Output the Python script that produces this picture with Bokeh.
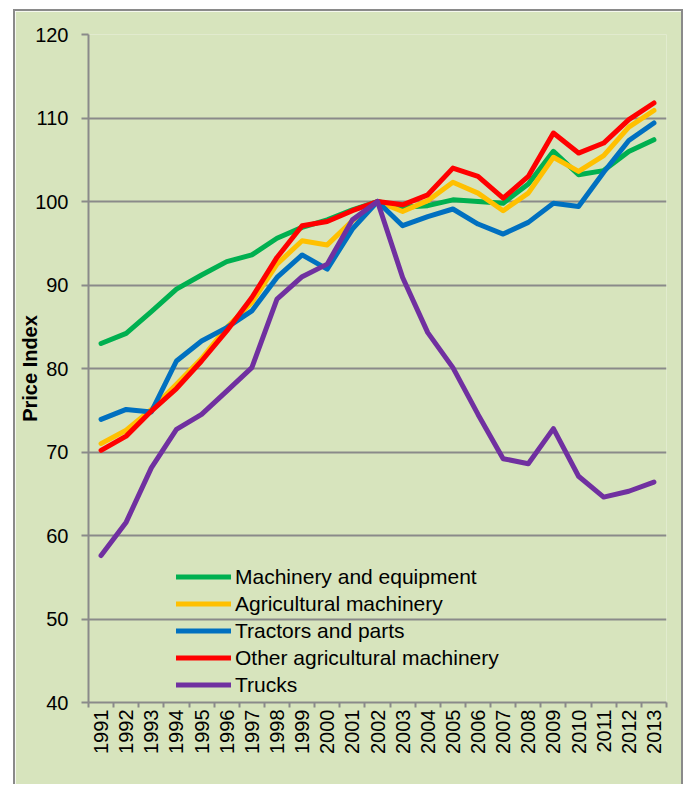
from bokeh.plotting import figure
from bokeh.models import Range1d, FixedTicker, Legend, LegendItem
from bokeh.embed import file_html
from bokeh.resources import INLINE
import math

years = [1991, 1992, 1993, 1994, 1995, 1996, 1997, 1998, 1999, 2000, 2001, 2002,
         2003, 2004, 2005, 2006, 2007, 2008, 2009, 2010, 2011, 2012, 2013]
machinery = [83.0, 84.2, 86.8, 89.5, 91.2, 92.8, 93.6, 95.6, 96.9, 97.8, 99.0, 100.0,
             99.3, 99.5, 100.2, 100.0, 99.8, 102.1, 106.0, 103.2, 103.7, 106.0, 107.4]
agricultural = [71.0, 72.6, 75.1, 78.1, 81.2, 84.9, 87.9, 92.5, 95.3, 94.8, 97.7, 100.0,
                98.8, 100.1, 102.3, 101.0, 98.9, 101.0, 105.3, 103.6, 105.5, 108.9, 110.9]
tractors = [73.9, 75.1, 74.8, 80.9, 83.3, 84.9, 86.9, 90.9, 93.6, 91.9, 96.7, 100.0,
            97.1, 98.2, 99.1, 97.3, 96.1, 97.5, 99.8, 99.4, 103.5, 107.3, 109.4]
other_ag = [70.2, 71.9, 74.9, 77.6, 80.9, 84.5, 88.5, 93.3, 97.1, 97.6, 98.9, 100.0,
            99.6, 100.8, 104.0, 103.0, 100.4, 103.0, 108.2, 105.8, 107.0, 109.8, 111.8]
trucks = [57.6, 61.6, 68.1, 72.7, 74.5, 77.3, 80.1, 88.3, 91.0, 92.5, 97.8, 100.0,
          90.9, 84.3, 80.1, 74.5, 69.2, 68.6, 72.8, 67.1, 64.6, 65.3, 66.4]

series_names = ["Machinery and equipment", "Agricultural machinery", "Tractors and parts",
                "Other agricultural machinery", "Trucks"]
series_colors = ["#00B050", "#FFC000", "#0070C0", "#FF0000", "#7030A0"]
y_ticks = [40, 50, 60, 70, 80, 90, 100, 110, 120]

BG = "#D7E4BD"
GRID = "#8A8A8A"
FONT = "Liberation Sans"

p = figure(width=670, height=775, output_backend="svg", toolbar_location=None,
           x_range=Range1d(years[0] - 0.5, years[-1] + 0.5),
           y_range=Range1d(y_ticks[0], y_ticks[-1]),
           min_border_left=73, min_border_right=19, min_border_top=23, min_border_bottom=84)
p.background_fill_color = BG
p.border_fill_color = BG
p.outline_line_color = None
p.styles = {"margin-top": "9px", "margin-left": "13px",
            "border-top": "2px solid #8A8A8A", "border-left": "2px solid #8A8A8A",
            "border-right": "2px solid #8A8A8A"}

# axes
p.yaxis.ticker = FixedTicker(ticks=y_ticks)
p.yaxis.axis_line_color = GRID
p.yaxis.axis_line_width = 2
p.yaxis.major_tick_line_color = GRID
p.yaxis.major_tick_line_width = 2
p.yaxis.major_tick_out = 7
p.yaxis.major_tick_in = 0
p.yaxis.minor_tick_line_color = None
p.yaxis.major_label_standoff = 13
p.yaxis.major_label_text_font = FONT
p.yaxis.major_label_text_font_size = "20px"
p.yaxis.major_label_text_color = "#000000"
p.yaxis.axis_label = "Price Index"
p.yaxis.axis_label_text_font = FONT
p.yaxis.axis_label_text_font_size = "20px"
p.yaxis.axis_label_text_font_style = "bold"
p.yaxis.axis_label_text_color = "#000000"
p.yaxis.axis_label_standoff = -9

minor = [y - 0.5 for y in years] + [years[-1] + 0.5]
p.xaxis.ticker = FixedTicker(ticks=years, minor_ticks=minor)
p.xaxis.axis_line_color = GRID
p.xaxis.axis_line_width = 2
p.xaxis.major_tick_line_color = None
p.xaxis.major_tick_out = 0
p.xaxis.major_tick_in = 0
p.xaxis.minor_tick_line_color = GRID
p.xaxis.minor_tick_line_width = 2
p.xaxis.minor_tick_out = 5
p.xaxis.minor_tick_in = 0
p.xaxis.major_label_orientation = math.pi / 2
p.xaxis.major_label_standoff = 2
p.xaxis.major_label_text_font = FONT
p.xaxis.major_label_text_font_size = "20px"
p.xaxis.major_label_text_color = "#000000"

p.xgrid.grid_line_color = None
p.ygrid.ticker = FixedTicker(ticks=y_ticks)
p.ygrid.grid_line_color = GRID
p.ygrid.grid_line_width = 2

all_series = [machinery, agricultural, tractors, other_ag, trucks]
items = []
for name, color, vals in zip(series_names, series_colors, all_series):
    r = p.line(years, vals, line_color=color, line_width=5,
               line_join="round", line_cap="round")
    items.append(LegendItem(label=name, renderers=[r]))

legend = Legend(items=items, location=(88, 4), orientation="vertical")
legend.background_fill_alpha = 0
legend.border_line_color = None
legend.padding = 0
legend.margin = 0
legend.spacing = 0
legend.glyph_width = 55
legend.glyph_height = 27
legend.label_height = 27
legend.label_standoff = 4
legend.label_text_font = FONT
legend.label_text_font_size = "21px"
legend.label_text_color = "#000000"
p.add_layout(legend, "center")

open("out.html", "w").write(file_html(p, INLINE))
